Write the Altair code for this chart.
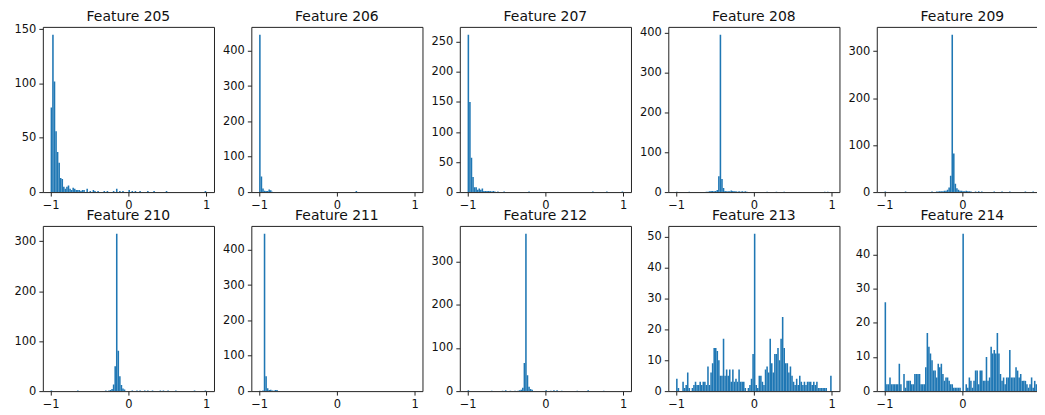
import altair as alt
import pandas as pd

features = [205, 206, 207, 208, 209, 210, 211, 212, 213, 214]
n_bins = 100
lo, hi = -1.0, 1.0

# counts per bin index (sparse: bin index -> count)
f205 = {0: 78, 1: 145, 2: 102, 3: 56, 4: 37, 5: 27, 6: 13, 7: 12, 8: 5, 9: 3, 10: 5, 11: 6,
        12: 3, 13: 2, 14: 4, 15: 3, 16: 2, 17: 2, 18: 2, 19: 1, 20: 2, 21: 2, 23: 3, 25: 1,
        27: 2, 28: 1, 30: 1, 34: 1, 36: 1, 40: 1, 42: 3, 44: 1, 46: 1, 50: 2, 52: 1, 54: 1,
        57: 1, 62: 1, 66: 1, 74: 1, 99: 1}
f206 = {0: 445, 1: 44, 2: 10, 3: 4, 4: 3, 5: 3, 6: 7, 7: 5, 8: 1, 62: 3}
f207 = {0: 262, 1: 150, 2: 57, 3: 25, 4: 8, 5: 8, 6: 4, 7: 6, 8: 4, 9: 6, 10: 2, 11: 2,
        12: 2, 13: 2, 14: 2, 15: 1, 16: 2, 17: 1, 19: 1, 23: 1, 39: 1, 80: 1, 89: 1, 99: 1}
f208 = {0: 1, 8: 1, 19: 1, 20: 1, 21: 2, 22: 3, 23: 3, 24: 2, 25: 3, 26: 5, 27: 40, 28: 395,
        29: 33, 30: 10, 31: 3, 32: 2, 33: 2, 34: 2, 35: 4, 36: 3, 37: 2, 38: 2, 39: 1, 40: 2,
        41: 1, 42: 2, 43: 1, 44: 2, 45: 1, 58: 1, 64: 1, 69: 1, 95: 1, 97: 1}
f209 = {0: 1, 13: 1, 30: 1, 33: 1, 34: 1, 35: 2, 36: 2, 37: 2, 38: 3, 39: 3, 40: 5, 41: 10,
        42: 35, 43: 335, 44: 82, 45: 18, 46: 8, 47: 5, 48: 3, 49: 3, 50: 2, 51: 2, 52: 3,
        53: 2, 54: 2, 55: 1, 58: 1, 60: 2, 62: 1, 70: 1, 75: 1, 80: 1, 90: 1, 95: 1}
f210 = {0: 1, 17: 1, 35: 1, 37: 1, 38: 2, 39: 4, 40: 13, 41: 50, 42: 315, 43: 81, 44: 30,
        45: 12, 46: 5, 47: 3, 52: 1, 55: 1, 57: 1, 60: 1, 62: 1, 65: 1, 70: 1, 72: 1, 75: 1,
        80: 1, 92: 1, 99: 1}
f211 = {0: 1, 2: 2, 3: 445, 4: 42, 5: 8, 6: 3, 7: 4, 8: 2, 9: 1, 10: 3, 11: 3}
f212 = {0: 2, 15: 1, 22: 1, 24: 2, 27: 1, 30: 1, 32: 1, 33: 2, 34: 3, 35: 8, 36: 65, 37: 364,
        38: 37, 39: 10, 40: 5, 41: 3, 50: 2, 53: 1, 55: 2, 57: 2, 60: 1, 70: 1, 77: 2, 87: 1}
f213 = [4, 1, 0, 0, 3, 1, 2, 6, 1, 0,
        1, 2, 3, 2, 2, 3, 2, 3, 3, 2,
        8, 2, 6, 9, 14, 14, 13, 10, 5, 5,
        17, 5, 7, 5, 7, 3, 7, 3, 4, 3,
        7, 3, 3, 3, 1, 0, 1, 2, 4, 12,
        51, 2, 1, 5, 5, 3, 2, 7, 8, 6,
        17, 9, 6, 12, 12, 14, 10, 17, 24, 14,
        9, 9, 6, 8, 5, 3, 2, 4, 2, 5,
        3, 2, 3, 2, 3, 3, 3, 2, 3, 2,
        3, 1, 1, 1, 1, 1, 1, 0, 0, 5]
f214 = [26, 2, 2, 4, 2, 2, 2, 2, 2, 8,
        2, 0, 5, 1, 3, 3, 3, 2, 2, 5,
        5, 5, 5, 2, 2, 2, 7, 17, 13, 11,
        9, 6, 6, 4, 8, 7, 8, 5, 3, 4,
        4, 3, 2, 2, 1, 1, 1, 1, 1, 0,
        46, 0, 2, 1, 4, 3, 1, 3, 6, 6,
        2, 6, 6, 3, 3, 10, 3, 4, 13, 11,
        12, 11, 17, 11, 5, 3, 4, 2, 4, 4,
        12, 4, 4, 4, 7, 6, 4, 5, 3, 3,
        3, 2, 1, 2, 4, 1, 3, 2, 1, 26]

counts = {205: f205, 206: f206, 207: f207, 208: f208, 209: f209,
          210: f210, 211: f211, 212: f212,
          213: dict(enumerate(f213)), 214: dict(enumerate(f214))}

y_ticks = {205: [0, 50, 100, 150], 206: [0, 100, 200, 300, 400],
           207: [0, 50, 100, 150, 200, 250], 208: [0, 100, 200, 300, 400],
           209: [0, 100, 200, 300], 210: [0, 100, 200, 300],
           211: [0, 100, 200, 300, 400], 212: [0, 100, 200, 300],
           213: [0, 10, 20, 30, 40, 50], 214: [0, 10, 20, 30, 40]}
x_ticks = [-1, 0, 1]

# layout (plot-area sizes); last column is cut by the page edge as in the reference
PW, PH = 172, 166
X_DOMAIN = (-1.1, 1.1)
px_per_unit = PW / (X_DOMAIN[1] - X_DOMAIN[0])
last_col_w = 167
LABEL_FS = 11.5

bw = (hi - lo) / n_bins
panels = []
for k, f in enumerate(features):
    rows = [{"start": lo + bw * i, "end": lo + bw * (i + 1), "count": c}
            for i, c in sorted(counts[f].items()) if c > 0]
    df = pd.DataFrame(rows)
    ymax = df["count"].max() * 1.05
    w = last_col_w if k % 5 == 4 else PW
    xdom = [X_DOMAIN[0], X_DOMAIN[0] + w / px_per_unit]
    # top y label may stick out above the panel and push the title up; compensate
    top_gap = (1 - max(y_ticks[f]) / ymax) * PH
    overhang = max(0.0, LABEL_FS / 2 + 0.8 - top_gap)
    ch = alt.Chart(df).mark_bar(color="#1f77b4", strokeWidth=0, clip=True).encode(
        x=alt.X("start:Q", scale=alt.Scale(domain=xdom, nice=False, zero=False),
                axis=alt.Axis(values=[v for v in x_ticks if v <= xdom[1]], title=None,
                              grid=False, format="d")),
        x2="end:Q",
        y=alt.Y("count:Q", scale=alt.Scale(domain=[0, ymax], nice=False),
                axis=alt.Axis(values=y_ticks[f], title=None, grid=False, format="d")),
        y2=alt.datum(0),
    ).properties(width=w, height=PH,
                 title=alt.TitleParams(f"Feature {f}", font="DejaVu Sans", fontSize=14,
                                       fontWeight="normal", color="#111", offset=3,
                                       anchor="middle", frame="group",
                                       dx=(PW - w) / 2, dy=overhang))
    panels.append(ch)

chart = alt.concat(*panels, columns=5, spacing={"row": 34, "column": 37.5},
                   bounds="flush").properties(
    padding={"left": 5, "top": 0, "right": -8, "bottom": 0}
).configure_view(
    stroke="#222", strokeWidth=1
).configure_axis(
    domain=False, ticks=True, tickColor="#222", tickSize=4, tickWidth=1,
    labelFont="DejaVu Sans", labelFontSize=LABEL_FS, labelColor="#111", labelPadding=3,
)

chart.save("out.html", embed_options={"renderer": "svg", "actions": False})
